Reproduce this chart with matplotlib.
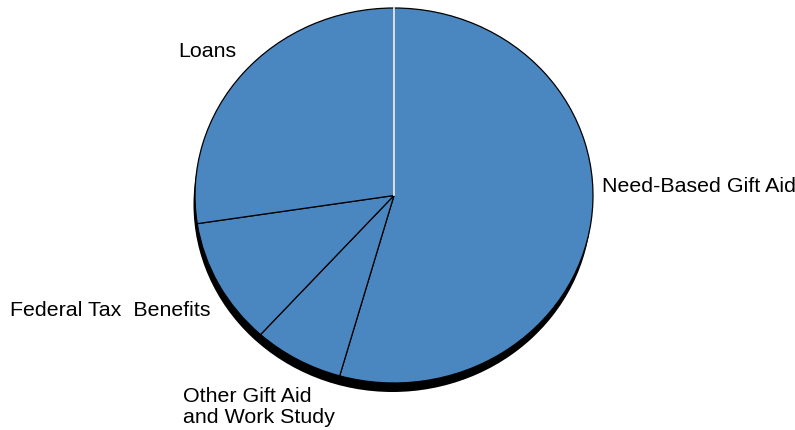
import numpy as np
import matplotlib
matplotlib.use("Agg")
import matplotlib.pyplot as plt
from matplotlib.patches import Ellipse

plt.rcParams['font.family'] = ['Liberation Sans', 'DejaVu Sans']

# share of aid (percent)
labels = ["Need-Based Gift Aid", "Other Gift Aid\nand Work Study",
          "Federal Tax  Benefits", "Loans"]
values = [54.4, 7.3, 10.9, 27.4]

W, H = 795, 430
fig = plt.figure(figsize=(W / 100, H / 100), dpi=100)
ax = fig.add_axes([0, 0, 1, 1])

# pie ellipse in pixels: centre (394, 195.5), radii 199 x 187.5
cx, cy, rx, ry = 394, 195.5, 199, 187.5
start = 90

# black drop shadow below the pie
ax.add_patch(Ellipse((-1.5 / rx, -9 / ry), 2, 2, facecolor="black", edgecolor="none", zorder=0))

wedges, _ = ax.pie(values, startangle=start, counterclock=False, radius=1,
                   colors=["#4a86bf"] * len(values),
                   wedgeprops=dict(edgecolor="black", linewidth=0.9))
for w in wedges:
    w.set_zorder(1)
# the seam at the start angle shows light
a = np.deg2rad(start)
ax.plot([0, np.cos(a)], [0, np.sin(a)], color="#f0f0f0", lw=1.3, zorder=2)

ax.set_aspect("auto")
ax.set_xlim(-cx / rx, (W - cx) / rx)
ax.set_ylim((cy - H) / ry, cy / ry)
ax.axis("off")

# label anchors in pixels (left x, baseline y of last line)
label_pos = [(602, 192), (183, 423), (10, 316), (178, 57)]
for txt, (px, py) in zip(labels, label_pos):
    fig.text(px / W, 1 - py / H, txt, fontsize=15.4,
             ha="left", va="baseline", linespacing=1.12)

fig.savefig("out.png", dpi=100)
